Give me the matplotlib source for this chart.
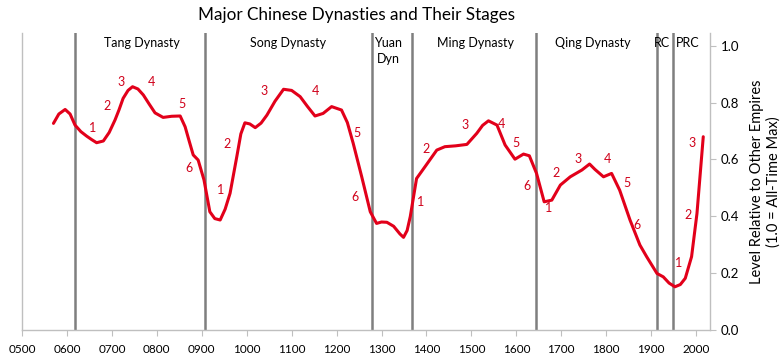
import matplotlib
matplotlib.use("Agg")
import matplotlib.pyplot as plt

years = [570, 582, 596, 607, 618, 631, 644, 655, 666, 681, 694, 707, 716, 725, 736, 746, 758, 770, 783, 796,
         814, 833, 852, 863, 872, 881, 892, 905, 918, 929, 941, 952, 963, 978, 987, 996, 1007, 1019, 1032, 1045,
         1063, 1082, 1100, 1119, 1135, 1152, 1170, 1189, 1211, 1224, 1237, 1256, 1275, 1289, 1300, 1312, 1327,
         1341, 1349, 1357, 1364, 1378, 1397, 1423, 1441, 1465, 1490, 1512, 1525, 1538, 1557, 1575, 1597, 1616,
         1629, 1645, 1662, 1679, 1698, 1720, 1746, 1763, 1775, 1794, 1812, 1830, 1853, 1875, 1890, 1913, 1927,
         1940, 1953, 1965, 1976, 1990, 2002, 2016]
level = [0.727, 0.760, 0.776, 0.760, 0.721, 0.698, 0.682, 0.670, 0.659, 0.665, 0.695, 0.739, 0.775, 0.815,
         0.843, 0.856, 0.848, 0.827, 0.795, 0.764, 0.748, 0.752, 0.753, 0.715, 0.665, 0.616, 0.598, 0.528, 0.416,
         0.392, 0.387, 0.425, 0.481, 0.610, 0.690, 0.729, 0.725, 0.712, 0.728, 0.756, 0.805, 0.847, 0.843, 0.821,
         0.787, 0.753, 0.762, 0.786, 0.774, 0.730, 0.657, 0.539, 0.416, 0.375, 0.380, 0.379, 0.365, 0.338, 0.326,
         0.350, 0.399, 0.533, 0.575, 0.633, 0.645, 0.648, 0.653, 0.692, 0.720, 0.736, 0.721, 0.651, 0.601, 0.619,
         0.613, 0.551, 0.451, 0.457, 0.510, 0.539, 0.563, 0.584, 0.565, 0.539, 0.551, 0.492, 0.387, 0.299, 0.258,
         0.199, 0.187, 0.165, 0.152, 0.160, 0.182, 0.258, 0.410, 0.680]

boundaries = [618, 907, 1279, 1368, 1644, 1912, 1949]

dynasty_names = ["Tang Dynasty", "Song Dynasty", "Yuan\nDyn", "Ming Dynasty", "Qing Dynasty", "RC", "PRC"]
dynasty_x = [767, 1092, 1315, 1510, 1771, 1925, 1982]

stage_labels = ["1", "2", "3", "4", "5", "6",
                "1", "2", "3", "4", "5", "6",
                "1", "2", "3", "4", "5", "6",
                "1", "2", "3", "4", "5", "6",
                "1", "2", "3"]
stage_x = [656, 689, 720, 789, 856, 872,
           941, 956, 1039, 1152, 1246, 1241,
           1388, 1399, 1486, 1566, 1600, 1624,
           1671, 1689, 1737, 1802, 1847, 1869,
           1960, 1982, 1991]
stage_y = [0.711, 0.788, 0.872, 0.872, 0.795, 0.570,
           0.493, 0.654, 0.841, 0.841, 0.693, 0.468,
           0.450, 0.637, 0.721, 0.724, 0.658, 0.506,
           0.429, 0.552, 0.601, 0.601, 0.517, 0.369,
           0.236, 0.405, 0.658]

x_ticks = list(range(500, 2001, 100))
x_tick_labels = [f"{t:04d}" for t in x_ticks]
y_ticks = [0.0, 0.2, 0.4, 0.6, 0.8, 1.0]

plt.rcParams['font.family'] = ['Lato', 'DejaVu Sans']

fig = plt.figure(figsize=(7.83, 3.58), dpi=100)
ax = fig.add_axes([22/783, 1-330/358, (710-22)/783, (330-33)/358])

ax.set_xlim(500, 2031)
ax.set_ylim(0, 1.045)

for b in boundaries:
    ax.axvline(b, color='#7f7f7f', lw=1.8, zorder=1)

ax.plot(years, level, color='#e2001a', lw=2.2, zorder=3, solid_capstyle='round', solid_joinstyle='round')

for name, xx in zip(dynasty_names, dynasty_x):
    ax.text(xx, 1.03, name, ha='center', va='top', fontsize=9, color='black', linespacing=1.35)

for s, xx, yy in zip(stage_labels, stage_x, stage_y):
    ax.text(xx, yy, s, ha='center', va='center', fontsize=9, color='#d0021b')

ax.set_xticks(x_ticks)
ax.set_xticklabels(x_tick_labels, fontsize=8.5)
ax.yaxis.tick_right()
ax.yaxis.set_label_position('right')
ax.set_yticks(y_ticks)
ax.set_yticklabels([f"{v:.1f}" for v in y_ticks], fontsize=9.5)
ax.set_ylabel("Level Relative to Other Empires\n(1.0 = All-Time Max)", fontsize=10.5, labelpad=8)

for side in ['top']:
    ax.spines[side].set_visible(False)
for side in ['left', 'right', 'bottom']:
    ax.spines[side].set_color('#bfbfbf')
    ax.spines[side].set_linewidth(1.0)
ax.tick_params(axis='both', color='#bfbfbf', length=4, direction='out')
ax.tick_params(axis='x', pad=6)

fig.suptitle("Major Chinese Dynasties and Their Stages", x=0.455, y=0.98, fontsize=12.3)

fig.savefig("out.png", dpi=100)
